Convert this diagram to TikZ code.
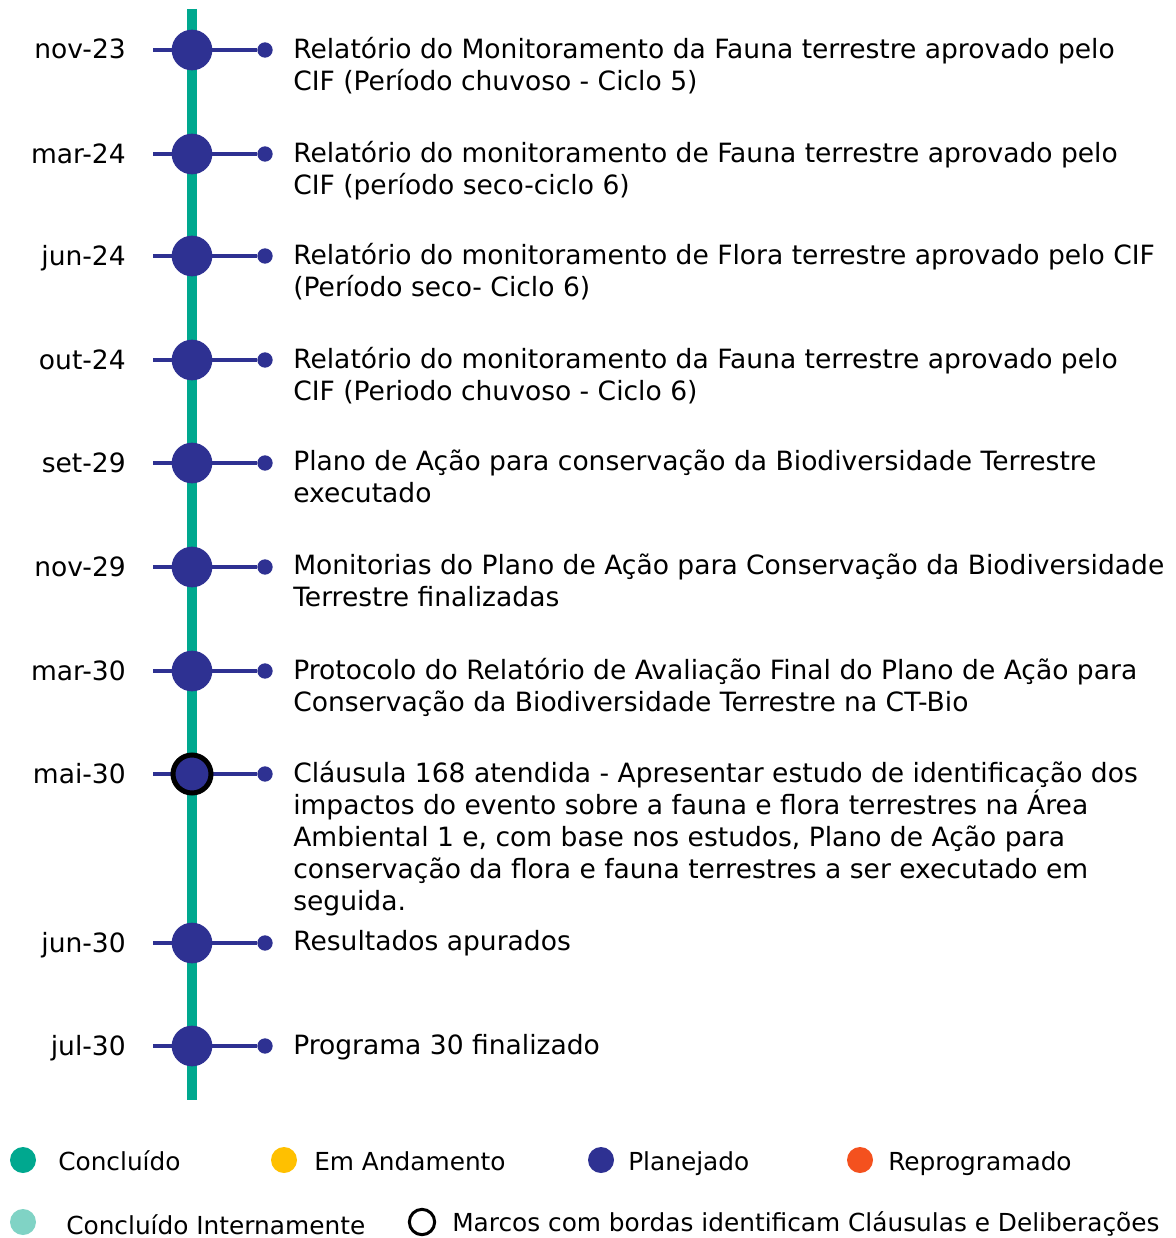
\documentclass[tikz,border=0pt]{standalone}
\usepackage{fontspec}
\setmainfont{DejaVu Sans}
\usepackage{tikz}
\usetikzlibrary{positioning}
\usepackage{xcolor}
\definecolor{Track}{HTML}{00A88F}
\definecolor{Plan}{HTML}{2E3192}
\definecolor{Amber}{HTML}{FFC000}
\definecolor{Reprog}{HTML}{F4511E}
\definecolor{TealLt}{HTML}{80D3C5}
\newcommand{\tlfont}{\fontsize{19.9}{24}\selectfont}
\newcommand{\keyfont}{\fontsize{18.6}{22}\selectfont}

\begin{document}
\begin{tikzpicture}[x=0.75pt, y=-0.75pt,
      milestone/.style={circle, fill=Plan, minimum size=30.5pt, inner sep=0pt},
      clause/.style={milestone, draw=black, line width=3.75pt, minimum size=28.5pt},
      tipdot/.style={circle, fill=Plan, minimum size=11.5pt, inner sep=0pt},
      datelbl/.style={anchor=base east, inner sep=0pt, font=\tlfont},
      desc/.style={anchor=north west, align=left, inner sep=0pt, font=\tlfont,
                   execute at begin node=\strut},
      link/.style={draw=Plan, line width=3pt},
      keydot/.style={circle, minimum size=19.5pt, inner sep=0pt},
      keytxt/.style={anchor=base west, inner sep=0pt, font=\keyfont}
    ]
      \useasboundingbox (0,0) rectangle (1175,1238);

      % timeline track
      \coordinate (top) at (192,9);
      \coordinate (bot) at (192,1100);
      \draw[Track, line width=7.5pt] (top) -- (bot);

      % nov-23
      \coordinate (s1) at (153,50);
      \node[tipdot] (e1) at (265,50) {};
      \draw[link] (s1) -- (e1);
      \node[milestone] (m1) at (192,50) {};
      \node[datelbl] (d1) at (126,59) {nov-23};
      \node[desc] (t1) at (293,36.6) {Relatório do Monitoramento da Fauna terrestre aprovado pelo\\CIF (Período chuvoso - Ciclo 5)};

      % mar-24
      \coordinate (s2) at (153,154);
      \node[tipdot] (e2) at (265,154) {};
      \draw[link] (s2) -- (e2);
      \node[milestone] (m2) at (192,154) {};
      \node[datelbl] (d2) at (126,163) {mar-24};
      \node[desc] (t2) at (293,140.6) {Relatório do monitoramento de Fauna terrestre aprovado pelo\\CIF (período seco-ciclo 6)};

      % jun-24
      \coordinate (s3) at (153,256);
      \node[tipdot] (e3) at (265,256) {};
      \draw[link] (s3) -- (e3);
      \node[milestone] (m3) at (192,256) {};
      \node[datelbl] (d3) at (126,265) {jun-24};
      \node[desc] (t3) at (293,242.6) {Relatório do monitoramento de Flora terrestre aprovado pelo CIF\\(Período seco- Ciclo 6)};

      % out-24
      \coordinate (s4) at (153,360);
      \node[tipdot] (e4) at (265,360) {};
      \draw[link] (s4) -- (e4);
      \node[milestone] (m4) at (192,360) {};
      \node[datelbl] (d4) at (126,369) {out-24};
      \node[desc] (t4) at (293,346.6) {Relatório do monitoramento da Fauna terrestre aprovado pelo\\CIF (Periodo chuvoso - Ciclo 6)};

      % set-29
      \coordinate (s5) at (153,463);
      \node[tipdot] (e5) at (265,463) {};
      \draw[link] (s5) -- (e5);
      \node[milestone] (m5) at (192,463) {};
      \node[datelbl] (d5) at (126,472) {set-29};
      \node[desc] (t5) at (293,449.6) {Plano de Ação para conservação da Biodiversidade Terrestre\\executado};

      % nov-29
      \coordinate (s6) at (153,567);
      \node[tipdot] (e6) at (265,567) {};
      \draw[link] (s6) -- (e6);
      \node[milestone] (m6) at (192,567) {};
      \node[datelbl] (d6) at (126,576) {nov-29};
      \node[desc] (t6) at (293,553.6) {Monitorias do Plano de Ação para Conservação da Biodiversidade\\Terrestre finalizadas};

      % mar-30
      \coordinate (s7) at (153,671);
      \node[tipdot] (e7) at (265,671) {};
      \draw[link] (s7) -- (e7);
      \node[milestone] (m7) at (192,671) {};
      \node[datelbl] (d7) at (126,680) {mar-30};
      \node[desc] (t7) at (293,657.6) {Protocolo do Relatório de Avaliação Final do Plano de Ação para\\Conservação da Biodiversidade Terrestre na CT-Bio};

      % mai-30 (clausula)
      \coordinate (s8) at (153,774);
      \node[tipdot] (e8) at (265,774) {};
      \draw[link] (s8) -- (e8);
      \node[clause] (m8) at (192,774) {};
      \node[datelbl] (d8) at (126,783) {mai-30};
      \node[desc] (t8) at (293,760.6) {Cláusula 168 atendida - Apresentar estudo de identificação dos\\impactos do evento sobre a fauna e flora terrestres na Área\\Ambiental 1 e, com base nos estudos, Plano de Ação para\\conservação da flora e fauna terrestres a ser executado em\\seguida.};

      % jun-30
      \coordinate (s9) at (153,943);
      \node[tipdot] (e9) at (265,943) {};
      \draw[link] (s9) -- (e9);
      \node[milestone] (m9) at (192,943) {};
      \node[datelbl] (d9) at (126,952) {jun-30};
      \node[desc] (t9) at (293,927.6) {Resultados apurados};

      % jul-30
      \coordinate (s10) at (153,1046);
      \node[tipdot] (e10) at (265,1046) {};
      \draw[link] (s10) -- (e10);
      \node[milestone] (m10) at (192,1046) {};
      \node[datelbl] (d10) at (126,1055) {jul-30};
      \node[desc] (t10) at (293,1031.6) {Programa 30 finalizado};

      % legenda
      \node[keydot, fill=Track]  (k1) at (23,1160) {};
      \node[keytxt] (l1) at (58,1170) {Concluído};
      \node[keydot, fill=Amber]  (k2) at (284,1160) {};
      \node[keytxt] (l2) at (314,1170) {Em Andamento};
      \node[keydot, fill=Plan]   (k3) at (601,1160) {};
      \node[keytxt] (l3) at (628,1170) {Planejado};
      \node[keydot, fill=Reprog] (k4) at (860,1160) {};
      \node[keytxt] (l4) at (888,1170) {Reprogramado};
      \node[keydot, fill=TealLt] (k5) at (23,1222) {};
      \node[keytxt] (l5) at (66,1234) {Concluído Internamente};
      \node[keydot, draw=black, line width=2.25pt, minimum size=19pt] (k6) at (422,1222) {};
      \node[keytxt] (l6) at (452,1231) {Marcos com bordas identificam Cláusulas e Deliberações};
    \end{tikzpicture}
\end{document}
